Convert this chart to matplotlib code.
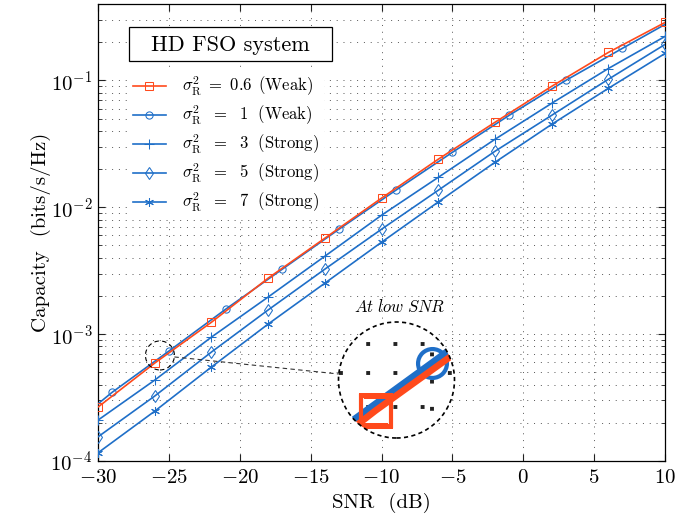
import numpy as np
import matplotlib.pyplot as plt
from matplotlib.patches import Circle, Rectangle
from matplotlib.lines import Line2D
from matplotlib.transforms import IdentityTransform
from matplotlib.ticker import LogLocator, NullFormatter, MultipleLocator

plt.rcParams['font.family'] = 'serif'
plt.rcParams['font.serif'] = ['cmr10']
plt.rcParams['mathtext.fontset'] = 'cm'
plt.rcParams['axes.formatter.use_mathtext'] = True

# capacity of the HD FSO link vs SNR for different Rytov variances
snr = [-30, -26, -22, -18, -14, -10, -6, -2, 2, 6, 10]
snr_w1 = [-30, -29, -25, -21, -17, -13, -9, -5, -1, 3, 7, 10]
cap_w06 = [2.66e-4, 5.91e-4, 1.24e-3, 2.76e-3, 5.70e-3, 1.18e-2, 2.39e-2, 4.67e-2, 8.97e-2, 0.166, 0.286]
cap_w1 = [2.82e-4, 3.48e-4, 7.35e-4, 1.57e-3, 3.25e-3, 6.71e-3, 1.36e-2, 2.71e-2, 5.30e-2, 0.100, 0.179, 0.276]
cap_s3 = [2.10e-4, 4.34e-4, 9.47e-4, 1.96e-3, 4.11e-3, 8.65e-3, 1.72e-2, 3.43e-2, 6.59e-2, 0.124, 0.222]
cap_s5 = [1.55e-4, 3.25e-4, 7.22e-4, 1.55e-3, 3.25e-3, 6.71e-3, 1.36e-2, 2.76e-2, 5.30e-2, 0.102, 0.192]
cap_s7 = [1.16e-4, 2.47e-4, 5.50e-4, 1.20e-3, 2.52e-3, 5.30e-3, 1.10e-2, 2.26e-2, 4.50e-2, 0.0865, 0.163]

labels = [r'$\sigma_{\rm R}^2\ =\ 0.6\ \,{\rm (Weak)}$',
          r'$\sigma_{\rm R}^2\ \ =\ \ 1\ \ {\rm (Weak)}$',
          r'$\sigma_{\rm R}^2\ \ =\ \ 3\ \ {\rm (Strong)}$',
          r'$\sigma_{\rm R}^2\ \ =\ \ 5\ \ {\rm (Strong)}$',
          r'$\sigma_{\rm R}^2\ \ =\ \ 7\ \ {\rm (Strong)}$']

red = '#ff4a1c'
blue = '#1f6fc8'
ast = (6, 2, 0)


def draw_curves(a, k=1.0):
    # k scales line widths and marks (used for the zoomed view)
    kw = dict(lw=1.2 * k, mfc='none', mew=0.75 * k)
    a.plot(snr, cap_w06, color=red, marker='s', ms=5.3 * k, label=labels[0], zorder=5, **kw)
    a.plot(snr_w1, cap_w1, color=blue, marker='o', ms=5.2 * k, markevery=slice(1, 11),
           label=labels[1], zorder=4, **kw)
    a.plot(snr, cap_s3, color=blue, marker='+', ms=6.5 * k, label=labels[2], zorder=4, **kw)
    a.plot(snr, cap_s5, color=blue, marker='d', ms=6 * k, label=labels[3], zorder=4, **kw)
    a.plot(snr, cap_s7, color=blue, marker=ast, ms=6.3 * k, label=labels[4], zorder=4, **kw)


fig = plt.figure(figsize=(6.97, 5.22), dpi=100)
W, H = 697, 522
ax = fig.add_axes([98 / W, 61 / H, 567 / W, 457 / H])

draw_curves(ax)

ax.set_xlim(-30, 10)
ax.set_yscale('log')
ax.set_ylim(1e-4, 0.4)
ax.xaxis.set_major_locator(MultipleLocator(5))
ax.yaxis.set_minor_formatter(NullFormatter())

grid_kw = dict(color='#555555', lw=0.7, ls=(0, (1, 6)))
ax.grid(True, which='major', axis='x', **grid_kw)
ax.grid(True, which='both', axis='y', **grid_kw)

ax.tick_params(which='both', direction='in', top=True, right=True, labelsize=15, color='#222222')
ax.tick_params(which='major', length=5)
ax.tick_params(which='minor', length=3)
ax.tick_params(axis='x', which='major', pad=5.5)
ax.tick_params(axis='y', which='major', pad=4)
for s in ax.spines.values():
    s.set_linewidth(0.9)

ax.set_xlabel('SNR  (dB)', fontsize=15)
ax.set_ylabel('Capacity  (bits/s/Hz)', fontsize=15)
ax.xaxis.set_label_coords(0.5, -0.092)
ax.xaxis.label.set_va('center')
ax.yaxis.set_label_coords(-0.1, 0.5)
ax.yaxis.label.set_va('center')

# legend: boxed title on top, entries on white without border
leg = ax.legend(loc='upper left', bbox_to_anchor=(128 / W, 1 - 70 / H),
                bbox_transform=fig.transFigure, fontsize=12, frameon=True,
                fancybox=False, edgecolor='none', facecolor='white', framealpha=1,
                handlelength=1.95, handletextpad=1.0, labelspacing=0.33,
                borderpad=0.3, borderaxespad=0)
leg.set_zorder(10)
fig.add_artist(Rectangle((129 / W, 1 - 61 / H), 203 / W, 34 / H, transform=fig.transFigure,
                         fc='white', ec='black', lw=0.9, zorder=11))
fig.text(230 / W, 1 - 45 / H, 'HD FSO system', fontsize=16, ha='center', va='center', zorder=12)

# zoomed view at low SNR
spy_x, spy_y = -25.63, 6.79e-4
mag = 4.0
r_big = 58.0
r_small = r_big / mag
c_small = ax.transData.transform((spy_x, spy_y))
c_big = np.array([396.5, H - 380.0])

lo = ax.transData.inverted().transform(c_small - r_small)
hi = ax.transData.inverted().transform(c_small + r_small)

ax_in = fig.add_axes([(c_big[0] - r_big) / W, (c_big[1] - r_big) / H, 2 * r_big / W, 2 * r_big / H])
ax_in.set_yscale('log')
ax_in.set_xlim(lo[0], hi[0])
ax_in.set_ylim(lo[1], hi[1])
ax_in.patch.set_visible(False)
for s in ax_in.spines.values():
    s.set_visible(False)
ax_in.set_xticks([])
ax_in.set_yticks([], minor=False)
ax_in.set_yticks([], minor=True)

clip = Circle((0.5, 0.5), 0.5, transform=ax_in.transAxes)
ax_in.add_patch(Circle((0.5, 0.5), 0.5, transform=ax_in.transAxes, fc='white', ec='none', zorder=0))

in_grid = dict(color='#222222', lw=2.8, ls=(0, (1, 6)), zorder=1)
for v in LogLocator(subs=np.arange(1, 10)).tick_values(lo[1], hi[1]):
    if lo[1] <= v <= hi[1]:
        ax_in.axhline(v, **in_grid).set_clip_path(clip)
for v in np.arange(-30, 11, 5):
    if lo[0] <= v <= hi[0]:
        ax_in.axvline(v, **in_grid).set_clip_path(clip)

draw_curves(ax_in, mag)
for ln in ax_in.lines:
    ln.set_clip_path(clip)

ax_in.add_patch(Circle((0.5, 0.5), 0.5, transform=ax_in.transAxes, fill=False, ec='black',
                       lw=1.2, ls=(0, (2.5, 2)), clip_on=False, zorder=20))

fig.add_artist(Circle(c_small, r_small, transform=IdentityTransform(), fill=False, ec='black',
                      lw=0.8, ls=(0, (4, 3))))
d = (c_big - c_small) / np.linalg.norm(c_big - c_small)
p0 = c_small + d * r_small
p1 = c_big - d * r_big
fig.add_artist(Line2D([p0[0], p1[0]], [p0[1], p1[1]], transform=IdentityTransform(),
                      color='#333333', lw=0.8, ls=(0, (4, 3))))

fig.text(400 / W, 1 - 307 / H, r'$\mathit{At\ low\ SNR}$', fontsize=12, ha='center', va='center')

fig.savefig('out.png', dpi=100)
